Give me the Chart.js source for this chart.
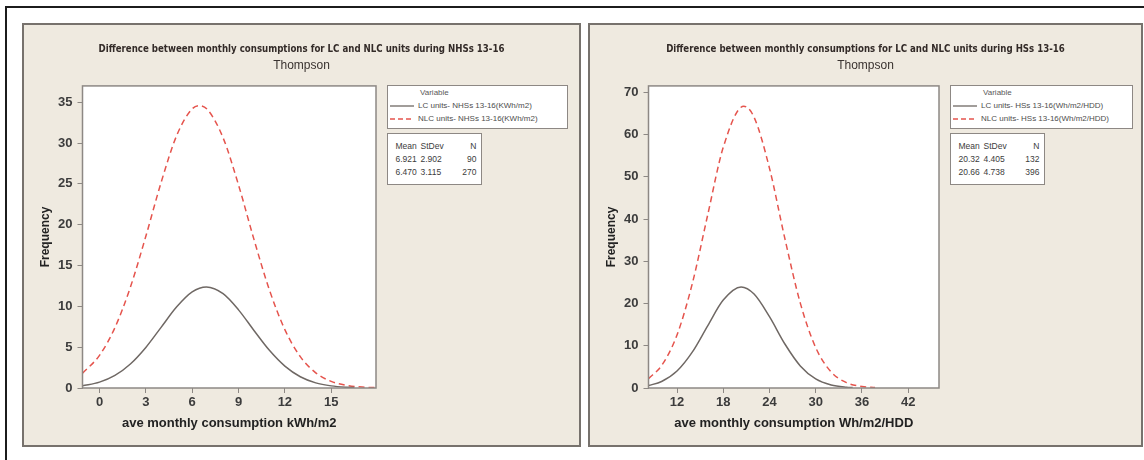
<!DOCTYPE html>
<html>
<head>
<meta charset="utf-8">
<script src="https://cdn.jsdelivr.net/npm/chart.js@4.4.1/dist/chart.umd.min.js"></script>
<style>
  body { margin: 0; background: #fff; width: 1144px; height: 460px; overflow: hidden; position: relative;
         font-family: 'Liberation Sans', Arial, sans-serif; }
  #frame { position: absolute; left: 5px; top: 6px; width: 1300px; height: 600px;
           border-top: 2px solid #1c1c1c; border-left: 2px solid #1c1c1c; }
  .panel { position: absolute; top: 23px; height: 424px; background: #efeae0;
           border: 2px solid #77726d; box-sizing: border-box; }
  .panel canvas { position: absolute; left: -2px; top: -2px; }
  .leg { position: absolute; background: #fff; border: 1.5px solid #8d8884; box-sizing: border-box;
         font-size: 8px; color: #4d4d4d; line-height: 13px; }
  .leg .hd { padding-left: 32px; color: #5a5a5a; }
  .leg .row { display: flex; align-items: center; height: 13px; }
  .leg svg { margin: 0 4px 0 2px; }
  .stats { position: absolute; background: #fff; border: 1.5px solid #8d8884; box-sizing: border-box;
           font-size: 8.5px; color: #3c3c3c; line-height: 13px; padding: 6px 0 0 7.5px; }
  .stats span { display: inline-block; }
</style>
</head>
<body>
<div id="frame"></div>
<div class="panel" id="p1" style="left:22px;width:559px"><canvas id="c1" width="559" height="424"></canvas></div>
<div class="panel" id="p2" style="left:588px;width:555px"><canvas id="c2" width="555" height="424"></canvas></div>

<script>
// ---- data: NHSs 13-16 (left) ----
const nhsLCx  = [-1.1, 0, 1, 2, 3, 4, 5, 6, 6.92, 8, 9, 10, 11, 12, 13, 14, 15, 16, 16.5];
const nhsLCy  = [0.27, 0.72, 1.54, 2.94, 4.97, 7.46, 9.94, 11.77, 12.37, 11.55, 9.57, 7.05, 4.61, 2.68, 1.38, 0.63, 0.26, 0.09, 0.05];
const nhsNLCx = [-1.1, 0, 1, 2, 3, 4, 5, 6, 6.47, 7, 8, 9, 10, 11, 12, 13, 14, 15, 16, 17, 17.8];
const nhsNLCy = [1.81, 4.0, 7.4, 12.35, 18.59, 25.25, 30.94, 34.19, 34.58, 34.08, 30.65, 24.87, 18.2, 12.01, 7.15, 3.84, 1.86, 0.81, 0.32, 0.11, 0.05];
const nhsTicksX = [0, 3, 6, 9, 12, 15];
const nhsTicksY = [0, 5, 10, 15, 20, 25, 30, 35];

// ---- data: HSs 13-16 (right) ----
const hsLCx  = [8.3, 10, 12, 14, 16, 18, 20.32, 22, 24, 26, 28, 30, 32, 34, 34.8];
const hsLCy  = [0.58, 1.54, 4.02, 8.54, 14.78, 20.81, 23.91, 22.23, 16.87, 10.41, 5.23, 2.14, 0.71, 0.19, 0.11];
const hsNLCx = [8.3, 10, 12, 14, 16, 18, 20.66, 22, 24, 26, 28, 30, 32, 34, 36, 37.7];
const hsNLCy = [2.22, 5.31, 12.55, 24.83, 41.11, 56.97, 66.69, 64.08, 52.02, 35.34, 20.09, 9.56, 3.8, 1.27, 0.35, 0.1];
const hsTicksX = [12, 18, 24, 30, 36, 42];
const hsTicksY = [0, 10, 20, 30, 40, 50, 60, 70];

const statsHeader = ['Mean', 'StDev', 'N'];
const nhsStats = [['6.921', '2.902', '90'], ['6.470', '3.115', '270']];
const hsStats  = [['20.32', '4.405', '132'], ['20.66', '4.738', '396']];

const SANS = "'Liberation Sans', Arial, sans-serif";
const NARROW = "'Liberation Sans Narrow', 'DejaVu Sans Condensed', 'Liberation Sans', sans-serif";
const LC_COLOR = '#6f6864';
const NLC_COLOR = '#e5544d';

Chart.defaults.font.family = SANS;

function pts(xs, ys) {
    return xs.map((x, i) => ({x: x, y: ys[i]}));
}

// white plot area with a grey frame, like the minitab graph
const plotFrame = {
    id: 'plotFrame',
    beforeDraw(chart) {
        const a = chart.chartArea, ctx = chart.ctx;
        ctx.save();
        ctx.fillStyle = '#ffffff';
        ctx.fillRect(a.left, a.top, a.right - a.left, a.bottom - a.top);
        ctx.restore();
    },
    afterDraw(chart) {
        const a = chart.chartArea, ctx = chart.ctx;
        ctx.save();
        ctx.strokeStyle = '#8d8884';
        ctx.lineWidth = 1.5;
        ctx.strokeRect(a.left, a.top, a.right - a.left, a.bottom - a.top);
        ctx.restore();
    }
};

function makeChart(id, cfg) {
    const ctx = document.getElementById(id).getContext('2d');
    return new Chart(ctx, {
        type: 'line',
        data: {
            datasets: [
                {label: cfg.legend[0], data: pts(cfg.lcX, cfg.lcY), borderColor: LC_COLOR, borderWidth: 1.5,
                 pointRadius: 0, cubicInterpolationMode: 'monotone', xAxisID: 'x', yAxisID: 'y'},
                {label: cfg.legend[1], data: pts(cfg.nlcX, cfg.nlcY), borderColor: NLC_COLOR, borderWidth: 1.5,
                 borderDash: [6, 4], pointRadius: 0, cubicInterpolationMode: 'monotone', xAxisID: 'x', yAxisID: 'y'}
            ]
        },
        options: {
            responsive: false,
            animation: false,
            layout: {padding: {left: 2, right: 2, top: 0, bottom: 0}},
            plugins: {
                legend: {display: false},
                tooltip: {enabled: false},
                title: {display: true, text: cfg.title, color: '#332b28',
                        font: {family: NARROW, size: 9.6, weight: 'bold'}, padding: {top: 21, bottom: 2}},
                subtitle: {display: true, text: 'Thompson', color: '#3a3330',
                           font: {size: 12}, padding: {top: 1, bottom: 13}}
            },
            scales: {
                x: {
                    type: 'linear', position: 'bottom', min: cfg.xMin, max: cfg.xMax,
                    afterBuildTicks: s => { s.ticks = cfg.ticksX.map(v => ({value: v})); },
                    afterFit: s => { s.height = 59; },
                    grid: {drawOnChartArea: false, drawTicks: true, tickLength: 5, color: '#8d8884'},
                    border: {display: false},
                    ticks: {color: '#3c3c3c', font: {size: 13, weight: 'bold'}, padding: 2, maxRotation: 0},
                    title: {display: true, text: cfg.xTitle, color: '#222',
                            font: {size: 13, weight: 'bold'}, padding: {top: 0, bottom: 16}}
                },
                y: {
                    type: 'linear', position: 'left', min: 0, max: cfg.yMax,
                    afterBuildTicks: s => { s.ticks = cfg.ticksY.map(v => ({value: v})); },
                    afterFit: s => { s.width = 58.5; },
                    grid: {drawOnChartArea: false, drawTicks: true, tickLength: 5, color: '#8d8884'},
                    border: {display: false},
                    ticks: {color: '#3c3c3c', font: {size: 13, weight: 'bold'}, padding: 5},
                    title: {display: true, text: 'Frequency', color: '#222',
                            font: {size: 12, weight: 'bold'}, padding: {top: 14, bottom: 0}}
                },
                // keeps room for the legend boxes on the right
                side: {
                    type: 'linear', position: 'right', display: true,
                    grid: {display: false}, border: {display: false}, ticks: {display: false},
                    afterFit: s => { s.width = cfg.sideWidth; }
                }
            }
        },
        plugins: [plotFrame]
    });
}

function lineSample(dashed) {
    const c = dashed ? NLC_COLOR : LC_COLOR;
    return '<svg width="24" height="4"><line x1="0" y1="2" x2="24" y2="2" stroke="' + c +
        '" stroke-width="1.3"' + (dashed ? ' stroke-dasharray="5,3"' : '') + '/></svg>';
}

function addLegend(left, width, legend, stats) {
    const leg = document.createElement('div');
    leg.className = 'leg';
    leg.style.cssText = 'left:' + left + 'px;top:85px;width:' + width + 'px;height:44px;';
    leg.innerHTML = '<div class="hd">Variable</div>' +
        '<div class="row">' + lineSample(false) + '<span>' + legend[0] + '</span></div>' +
        '<div class="row">' + lineSample(true) + '<span>' + legend[1] + '</span></div>';
    document.body.appendChild(leg);

    const st = document.createElement('div');
    st.className = 'stats';
    st.style.cssText = 'left:' + left + 'px;top:133px;width:95px;height:52px;';
    let html = '';
    [statsHeader].concat(stats).forEach(r => {
        html += '<div><span style="width:25px">' + r[0] + '</span><span style="width:36px">' + r[1] +
            '</span><span style="width:20px;text-align:right">' + r[2] + '</span></div>';
    });
    st.innerHTML = html;
    document.body.appendChild(st);
}

makeChart('c1', {
    title: 'Difference between monthly consumptions for LC and NLC units during NHSs 13-16',
    xTitle: 'ave monthly consumption kWh/m2',
    legend: ['LC units- NHSs 13-16(KWh/m2)', 'NLC units- NHSs 13-16(KWh/m2)'],
    lcX: nhsLCx, lcY: nhsLCy, nlcX: nhsNLCx, nlcY: nhsNLCy,
    ticksX: nhsTicksX, ticksY: nhsTicksY,
    xMin: -1.1, xMax: 17.9, yMax: 37, sideWidth: 203
});

makeChart('c2', {
    title: 'Difference between monthly consumptions for LC and NLC units during HSs 13-16',
    xTitle: 'ave monthly consumption Wh/m2/HDD',
    legend: ['LC units- HSs 13-16(Wh/m2/HDD)', 'NLC units- HSs 13-16(Wh/m2/HDD)'],
    lcX: hsLCx, lcY: hsLCy, nlcX: hsNLCx, nlcY: hsNLCy,
    ticksX: hsTicksX, ticksY: hsTicksY,
    xMin: 8.3, xMax: 46, yMax: 71.5, sideWidth: 202
});

addLegend(387, 181, ['LC units- NHSs 13-16(KWh/m2)', 'NLC units- NHSs 13-16(KWh/m2)'], nhsStats);
addLegend(950, 183, ['LC units- HSs 13-16(Wh/m2/HDD)', 'NLC units- HSs 13-16(Wh/m2/HDD)'], hsStats);
</script>
</body>
</html>
